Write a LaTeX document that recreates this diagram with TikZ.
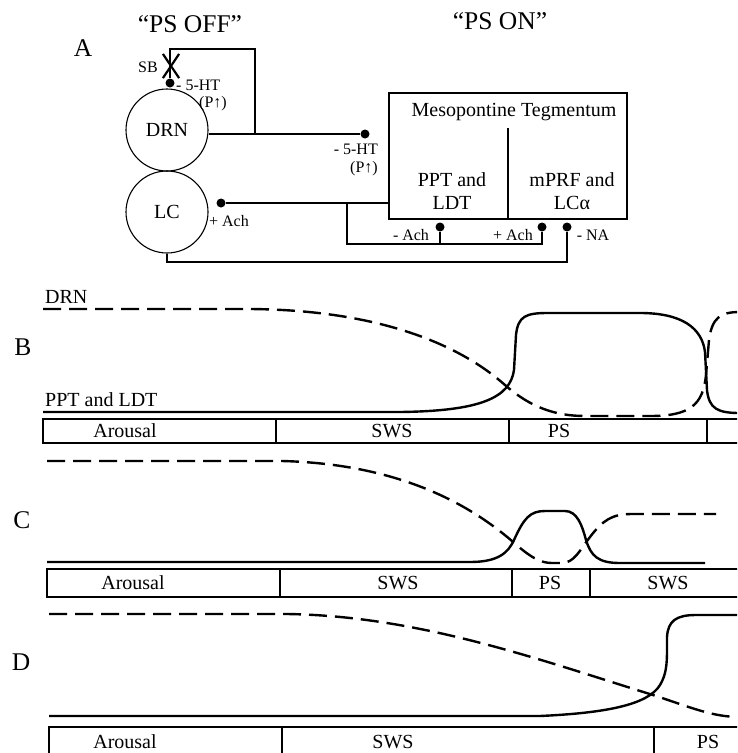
\documentclass[tikz,border=0pt]{standalone}
\usepackage{fontspec}
\setmainfont{Liberation Serif}
\usetikzlibrary{shapes.misc}
\begin{document}
\begin{tikzpicture}[
    x=1pt,
    y=-1pt,
    every node/.style={font=\fontsize{20}{23}\selectfont, inner sep=0pt},
    nucleus/.style={circle, draw, line width=1.1pt, minimum size=82pt},
    tegbox/.style={draw, line width=1.1pt, minimum width=238pt, minimum height=126pt},
    wire/.style={line width=1.1pt},
    dot/.style={circle, fill=black, minimum size=9pt},
    small/.style={font=\fontsize{16}{17}\selectfont},
    title/.style={font=\fontsize{25.5}{27}\selectfont},
    stage/.style={line width=1.1pt},
    onact/.style={line width=2.4pt},
    offact/.style={line width=2.4pt, dash pattern=on 18pt off 8pt}
  ]
    \useasboundingbox (0,0) rectangle (737,753);
    \clip (0,0) rectangle (737,753);

    % Panel A: circuit.
    \node[title] (off) at (190,24) {“PS OFF”};
    \node[title] (on) at (500,21) {“PS ON”};
    \node[title] (pa) at (83,48) {A};

    \node[nucleus] (drn) at (167,130) {DRN};
    \node[nucleus] (lc) at (167,212) {LC};
    \node[tegbox] (mt) at (508,156) {};
    \node (mtlbl) at (514,112) {Mesopontine Tegmentum};
    \node[align=center] (ppt) at (452,191) {PPT and\\LDT};
    \node[align=center] (mprf) at (572,191) {mPRF and\\LCα};
    \draw[wire] (mt.south) -- ++(0,-92);

    % Terminals and their labels.
    \node[dot] (sbdot) at (170,83) {};
    \node[draw, cross out, line width=2.2pt, minimum width=14pt,
      minimum height=22pt] (sb) at (171,66) {};
    \node[small] (sblbl) at (148,67) {SB};
    \node[small, anchor=west] (ht1) at (176,85) {- 5-HT};
    \node[small] (p1) at (213,104) {(P↑)};

    \node[dot] (htdot) at (365,134) {};
    \node[small, anchor=east] (ht2) at (378,149) {- 5-HT};
    \node[small, anchor=east] (p2) at (378,169) {(P↑)};

    \node[dot] (achdot) at (221,203) {};
    \node[small] (achlbl) at (229,221) {+ Ach};
    \node[dot] (machdot) at (440,227) {};
    \node[dot] (pachdot) at (542,227) {};
    \node[dot] (nadot) at (567,227) {};
    \node[small] (machlbl) at (411,235) {- Ach};
    \node[small] (pachlbl) at (513,235) {+ Ach};
    \node[small] (nalbl) at (593,235) {- NA};

    % Connections.
    \coordinate (loop) at (255,134);
    \coordinate (br) at (347,203);
    \coordinate (achbus) at (347,244);
    \coordinate (nabus) at (567,262);
    \draw[wire] (sbdot) -- ++(0,-34) -| (loop);
    \draw[wire] (drn.east |- htdot) -- (htdot);
    \draw[wire] (achdot) -- (achdot -| mt.west);
    \draw[wire] (br) -- (achbus) -| (pachdot);
    \draw[wire] (machdot) -- (machdot |- achbus);
    \draw[wire] (lc.south) |- (nabus) -- (nadot);

    % Panel B.
    \node[title] (pb) at (23,347) {B};
    \node[anchor=west] (drnlbl) at (45,297) {DRN};
    \node[anchor=west] (pptlbl) at (45,400) {PPT and LDT};
    \draw[offact] (43,309) -- (250,309) .. controls (380,310) and (460,345) .. (505,385)
      .. controls (530,407) and (555,416) .. (585,416) -- (650,416)
      .. controls (690,416) and (703,405) .. (706,375) -- (709,340)
      .. controls (712,318) and (720,312) .. (740,312);
    \draw[onact] (43,412) -- (400,412) .. controls (480,411) and (510,398) .. (514,370)
      -- (516,335) .. controls (518,316) and (526,313) .. (548,313) -- (640,313)
      .. controls (682,313) and (702,328) .. (705,352) -- (707,390)
      .. controls (709,409) and (718,413) .. (740,413);
    \draw[stage] (740,419) -- (43,419) -- (43,443) -- (740,443);
    \draw[stage] (276,419) -- (276,443);
    \draw[stage] (509,419) -- (509,443);
    \draw[stage] (707,419) -- (707,443);
    \node (b1) at (125,431) {Arousal};
    \node (b2) at (392,431) {SWS};
    \node (b3) at (559,431) {PS};

    % Panel C.
    \node[title] (pc) at (22,520) {C};
    \draw[offact] (47,461) -- (282,461) .. controls (400,464) and (470,505) .. (512,541)
      .. controls (530,557) and (540,563) .. (552,563) -- (562,563)
      .. controls (574,563) and (580,550) .. (590,537)
      .. controls (603,520) and (612,514) .. (632,514) -- (716,514);
    \draw[onact] (47,562) -- (470,562) .. controls (498,562) and (508,553) .. (514,540)
      .. controls (524,518) and (530,511) .. (545,511) -- (565,511)
      .. controls (577,511) and (582,525) .. (586,540)
      .. controls (591,556) and (598,563) .. (620,563) -- (705,563);
    \draw[stage] (740,569) -- (47,569) -- (47,597) -- (740,597);
    \draw[stage] (280,569) -- (280,597);
    \draw[stage] (512,569) -- (512,597);
    \draw[stage] (590,569) -- (590,597);
    \node (c1) at (133,583) {Arousal};
    \node (c2) at (398,583) {SWS};
    \node (c3) at (550,583) {PS};
    \node (c4) at (668,583) {SWS};

    % Panel D.
    \node[title] (pd) at (21,662) {D};
    \draw[offact] (49,614) -- (287,614) .. controls (420,616) and (540,660) .. (653,695)
      .. controls (690,707) and (712,717) .. (740,717);
    \draw[onact] (49,716) -- (540,716) .. controls (605,713) and (648,705) .. (660,685)
      .. controls (666,675) and (667,665) .. (667,650) -- (667,637)
      .. controls (668,621) and (676,615) .. (696,615) -- (740,615);
    \draw[stage] (740,727) -- (49,727) -- (49,760);
    \draw[stage] (282,727) -- (282,760);
    \draw[stage] (654,727) -- (654,760);
    \node (d1) at (125,742) {Arousal};
    \node (d2) at (393,742) {SWS};
    \node (d3) at (708,742) {PS};
  \end{tikzpicture}
\end{document}
